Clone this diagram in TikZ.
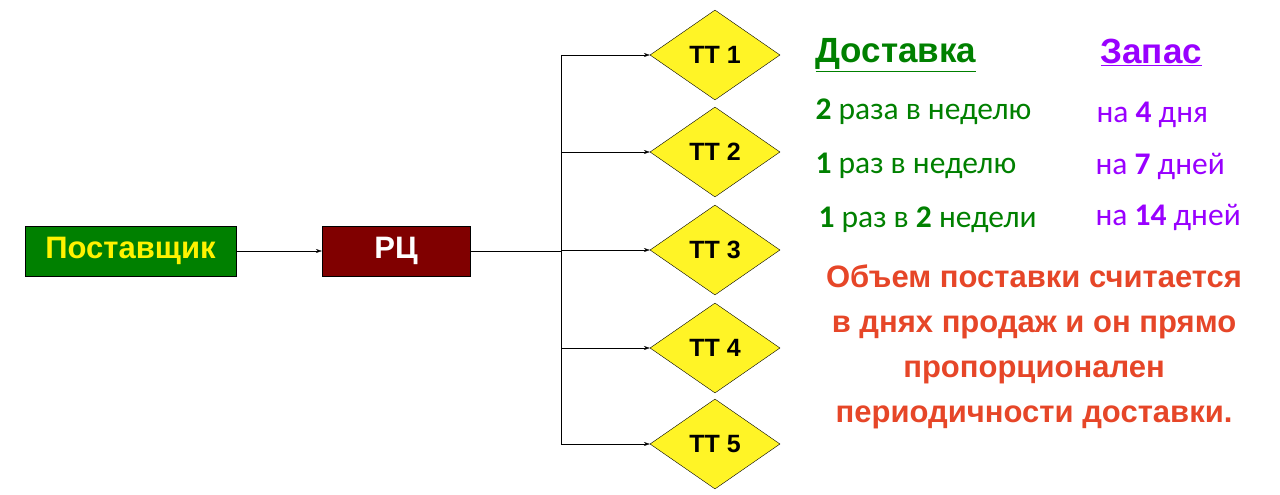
\documentclass[tikz,border=0pt]{standalone}
\usepackage{fontspec}
\setmainfont{Liberation Sans}
\newfontfamily\calfnt{Carlito}
\usetikzlibrary{shapes.geometric,arrows.meta}
\definecolor{dgreen}{RGB}{0,128,0}
\definecolor{purp}{RGB}{153,0,255}
\definecolor{redt}{RGB}{230,70,40}
\definecolor{boxg}{RGB}{0,128,0}
\definecolor{boxr}{RGB}{128,0,0}
\begin{document}
\begin{tikzpicture}[x=1pt,y=-1pt,
  box/.style={draw=black,minimum width=211pt,minimum height=50pt,inner sep=0,font=\fontsize{31}{31}\selectfont\bfseries},
  tt/.style={diamond,draw=black,fill=yellow!85!white,minimum width=130pt,minimum height=90pt,inner sep=0,aspect=1.45,font=\fontsize{25}{25}\selectfont\bfseries},
  arr/.style={-{Stealth[length=6pt,width=4pt]},black},
  lg/.style={anchor=west,font=\calfnt\fontsize{31.5}{31.5}\selectfont,text=dgreen},
  lp/.style={anchor=west,font=\calfnt\fontsize{31.5}{31.5}\selectfont,text=purp}]
\useasboundingbox (0,0) rectangle (1280,495);
\node[box,fill=boxg,text=yellow] (p) at (130.5,251) {Поставщик};
\node[box,fill=boxr,text=white,minimum width=148pt] (rc) at (396,251) {РЦ};
\foreach \i/\y in {1/55,2/152,3/250,4/348,5/444}{
  \node[tt,minimum width=130pt,minimum height=90pt] (t\i) at (715,\y) {TT \i};
  \coordinate (c\i) at (561,\y);
}
\draw[arr] (p) -- (rc);
\draw (rc.east) -- (561,251);
\draw (c1) -- (c5);
\foreach \i in {1,...,5}{\draw[arr] (c\i) -- (t\i.west);}
\node[anchor=west,font=\fontsize{35}{35}\selectfont\bfseries,text=dgreen] (h1) at (812,55) {\underline{Доставка}};
\node[anchor=west,font=\fontsize{35}{35}\selectfont\bfseries,text=purp] (h2) at (1097,52) {\underline{Запас}};
\node[lg] (a1) at (812,112) {\textbf{2} раза в неделю};
\node[lp] (b1) at (1093,115) {на \textbf{4} дня};
\node[lg] (a2) at (812,166) {\textbf{1} раз в неделю};
\node[lp] (b2) at (1092,166) {на \textbf{7} дней};
\node[lg] (a3) at (815,220) {\textbf{1} раз в \textbf{2} недели};
\node[lp] (b3) at (1092,217) {на \textbf{14} дней};
\node[align=center,text=redt,font=\fontsize{31}{45}\selectfont\bfseries,anchor=north] (r) at (1034,261)
 {Объем поставки считается\\в днях продаж и он прямо\\пропорционален\\периодичности доставки.};
\end{tikzpicture}
\end{document}
